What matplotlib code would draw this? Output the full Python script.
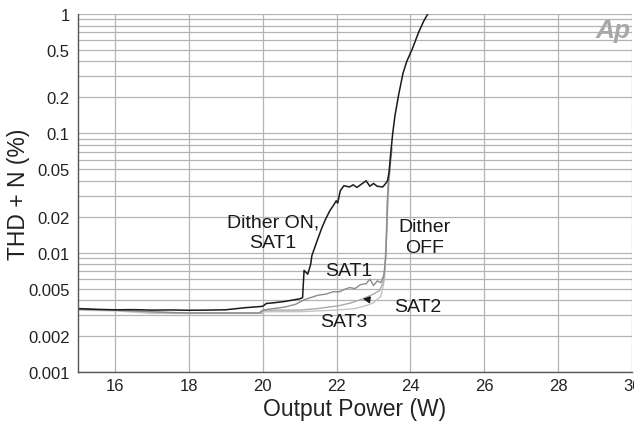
import numpy as np
import matplotlib
matplotlib.use("Agg")
import matplotlib.pyplot as plt
from matplotlib.ticker import FixedLocator, NullFormatter

plt.rcParams['font.family'] = ['Liberation Sans', 'DejaVu Sans']

# Dither ON, SAT1 (black)
on_w = [15.0, 15.5, 16.0, 16.5, 17.0, 17.5, 18.0, 18.5, 19.0, 19.5, 20.0, 20.1, 20.3,
        20.6, 21.0, 21.08, 21.12, 21.22, 21.3, 21.33, 21.45, 21.59, 21.7, 21.82, 21.92,
        21.99, 22.03, 22.1, 22.2, 22.35, 22.45, 22.55, 22.7, 22.8, 22.9, 23.0, 23.1,
        23.25, 23.33, 23.38, 23.42, 23.47, 23.52, 23.58, 23.68, 23.8, 23.9, 24.05,
        24.22, 24.35, 24.47, 24.6]
on_thd = [0.00340, 0.00335, 0.00332, 0.00333, 0.00330, 0.00331, 0.00329, 0.00330,
          0.00332, 0.00345, 0.00355, 0.00375, 0.00380, 0.00390, 0.00410, 0.00420,
          0.0071, 0.0066, 0.0080, 0.0094, 0.0120, 0.0158, 0.0190, 0.0225, 0.0250,
          0.0272, 0.0260, 0.0330, 0.0364, 0.0355, 0.0370, 0.0352, 0.0380, 0.0400,
          0.0360, 0.0380, 0.0360, 0.0355, 0.0380, 0.0400, 0.047, 0.070, 0.100, 0.140,
          0.210, 0.320, 0.400, 0.510, 0.700, 0.860, 1.0, 1.15]

# Dither OFF, SAT1
sat1_w = [15.0, 16.0, 17.0, 17.5, 18.0, 19.0, 19.9, 20.0, 20.3, 20.6, 20.9, 21.1, 21.3,
          21.5, 21.72, 21.9, 22.08, 22.2, 22.35, 22.5, 22.65, 22.8, 22.9, 23.0, 23.1,
          23.2, 23.28, 23.33, 23.36, 23.38, 23.41, 23.44, 23.5]
sat1_thd = [0.00335, 0.00330, 0.00320, 0.00315, 0.00312, 0.00312, 0.00312, 0.00330,
            0.00340, 0.00350, 0.00370, 0.00400, 0.00420, 0.00440, 0.00450, 0.00470,
            0.00470, 0.00490, 0.00510, 0.00500, 0.00540, 0.00550, 0.00600, 0.00530,
            0.00580, 0.00560, 0.0065, 0.0090, 0.016, 0.028, 0.040, 0.050, 0.075]

# Dither OFF, SAT2
sat2_w = [15.0, 16.0, 17.0, 18.0, 19.0, 19.95, 20.05, 21.0, 21.5, 22.08, 22.4, 22.71,
          23.0, 23.16, 23.25, 23.3, 23.34, 23.37, 23.4, 23.44]
sat2_thd = [0.00335, 0.00330, 0.00318, 0.00312, 0.00312, 0.00312, 0.00330, 0.00330,
            0.00340, 0.00360, 0.00380, 0.00410, 0.00450, 0.00480, 0.00550, 0.0070,
            0.012, 0.025, 0.040, 0.050]

# Dither OFF, SAT3
sat3_w = [15.0, 16.0, 17.0, 18.0, 19.0, 20.0, 20.05, 21.0, 22.0, 22.5, 22.8, 23.0, 23.2,
          23.3, 23.34, 23.38, 23.42, 23.45]
sat3_thd = [0.00330, 0.00325, 0.00310, 0.00310, 0.00310, 0.00310, 0.00320, 0.00320,
            0.00330, 0.00340, 0.00360, 0.00380, 0.00430, 0.0060, 0.011, 0.022, 0.040,
            0.050]

y_major = [0.001, 0.002, 0.005, 0.01, 0.02, 0.05, 0.1, 0.2, 0.5, 1]
y_labels = ['0.001', '0.002', '0.005', '0.01', '0.02', '0.05', '0.1', '0.2', '0.5', '1']
x_ticks = [16, 18, 20, 22, 24, 26, 28, 30]

fig = plt.figure(figsize=(6.34, 4.27), dpi=100)
ax = fig.add_axes([0.123, 0.1265, 0.874, 0.8385])

ax.plot(sat3_w, sat3_thd, color='#c4c4c4', lw=1.0)
ax.plot(sat2_w, sat2_thd, color='#aaaaaa', lw=1.0)
ax.plot(sat1_w, sat1_thd, color='#8c8c8c', lw=1.0)
ax.plot(on_w, on_thd, color='#1a1a1a', lw=1.1)

ax.set_yscale('log')
ax.set_xlim(15, 30)
ax.set_ylim(0.001, 1)

minor = [m * 10.0 ** e for e in (-3, -2, -1) for m in range(1, 10)]
minor = [v for v in minor if not any(np.isclose(v, y_major))]
ax.yaxis.set_major_locator(FixedLocator(y_major))
ax.yaxis.set_minor_locator(FixedLocator(minor))
ax.yaxis.set_minor_formatter(NullFormatter())
ax.set_yticklabels(y_labels)
ax.set_xticks(x_ticks)
ax.tick_params(which='both', length=0, labelsize=12, colors='#222222')
ax.tick_params(axis='y', pad=6)
ax.tick_params(axis='x', pad=4)

ax.grid(True, which='both', color='#b4b4b4', lw=0.9)
ax.set_axisbelow(True)
for s in ('top', 'right'):
    ax.spines[s].set_visible(False)
for s in ('left', 'bottom'):
    ax.spines[s].set_color('#555555')
    ax.spines[s].set_linewidth(1.0)

ax.set_xlabel('Output Power (W)', fontsize=16.5, color='#222222', labelpad=3)
ax.set_ylabel('THD + N (%)', fontsize=16.5, color='#222222')
ax.yaxis.set_label_coords(-0.087, 0.5)

tkw = dict(fontsize=14, color='#1a1a1a', ha='center', va='center', linespacing=1.25)
ax.text(20.27, 0.0148, 'Dither ON,\nSAT1', **tkw)
ax.text(24.38, 0.0135, 'Dither\nOFF', **tkw)
ax.text(22.32, 0.0071, 'SAT1', **tkw)
ax.text(22.2, 0.00266, 'SAT3', **tkw)
ax.annotate('SAT2', xy=(22.71, 0.0041), xytext=(24.2, 0.00357), fontsize=14,
            color='#1a1a1a', ha='center', va='center',
            arrowprops=dict(arrowstyle='-|>', color='#1a1a1a', lw=1.0,
                            shrinkA=17, shrinkB=0, mutation_scale=10))

ax.text(0.997, 0.99, 'Ap', transform=ax.transAxes, fontsize=19, color='#a8a8a8',
        fontstyle='italic', fontweight='bold', ha='right', va='top')

fig.savefig('out.png', dpi=100)
